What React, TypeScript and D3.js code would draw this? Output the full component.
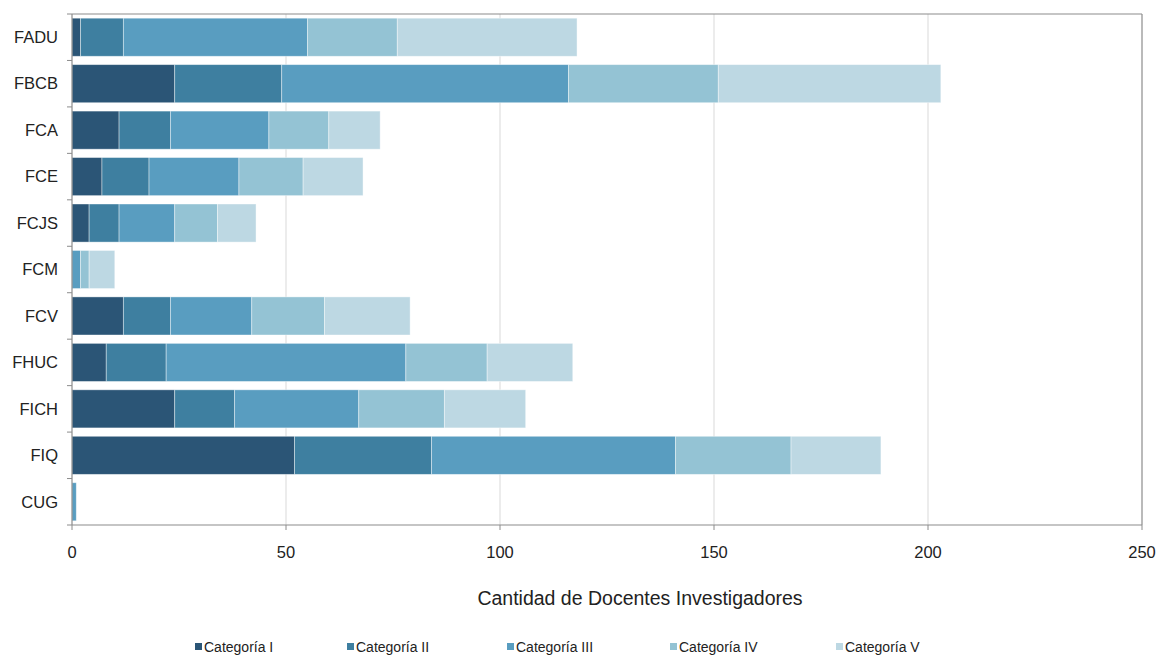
import React from 'react'
import * as d3 from "d3";

// faculties, top to bottom
const faculties = ["FADU", "FBCB", "FCA", "FCE", "FCJS", "FCM", "FCV", "FHUC", "FICH", "FIQ", "CUG"];
const categories = ["Categoría I", "Categoría II", "Categoría III", "Categoría IV", "Categoría V"];

// values per category, same order as faculties
const catI = [2, 24, 11, 7, 4, 0, 12, 8, 24, 52, 0];
const catII = [10, 25, 12, 11, 7, 0, 11, 14, 14, 32, 0];
const catIII = [43, 67, 23, 21, 13, 2, 19, 56, 29, 57, 1];
const catIV = [21, 35, 14, 15, 10, 2, 17, 19, 20, 27, 0];
const catV = [42, 52, 12, 14, 9, 6, 20, 20, 19, 21, 0];

const xTicks = [0, 50, 100, 150, 200, 250];
const colors = ["#2b5576", "#3e7fa0", "#599dc0", "#94c3d4", "#bdd8e3"];

const width = 1159;
const height = 655;
const margin = { top: 14, right: 17, bottom: 130, left: 72 };

function App() {
    const series = [catI, catII, catIII, catIV, catV];
    const rows = faculties.map((f, i) => {
        const row: any = { name: f };
        categories.forEach((c, k) => { row[c] = series[k][i]; });
        return row;
    });
    const stacked = d3.stack().keys(categories)(rows);

    const x = d3.scaleLinear().domain([0, 250]).range([margin.left, width - margin.right]);
    const y = d3.scaleBand().domain(faculties).range([margin.top, height - margin.bottom]).paddingInner(0.18).paddingOuter(0.09);
    const bandStep = (height - margin.bottom - margin.top) / faculties.length;
    const bottom = height - margin.bottom;

    const font = "'Liberation Sans', Arial, sans-serif";
    const legendX = [195, 347, 507, 670, 836];

    return (
        <svg width={width} height={height} style={{ position: "absolute", left: 0, top: 0, fontFamily: font }}>
            <rect x={0} y={0} width={width} height={height} fill="#fff" />
            {/* gridlines */}
            {xTicks.slice(1, -1).map(t => (
                <line key={t} x1={x(t)} x2={x(t)} y1={margin.top} y2={bottom} stroke="#d9d9d9" strokeWidth={1} />
            ))}
            {/* plot frame */}
            <line x1={margin.left} x2={width - margin.right} y1={margin.top} y2={margin.top} stroke="#8c8c8c" strokeWidth={1.2} />
            <line x1={width - margin.right} x2={width - margin.right} y1={margin.top} y2={bottom} stroke="#8c8c8c" strokeWidth={1.2} />

            {/* bars */}
            {stacked.map((s, k) => (
                <g key={s.key} fill={colors[k]}>
                    {s.map((d: any, i) => (
                        d[1] - d[0] > 0 ? (
                            <rect key={i}
                                x={x(d[0])}
                                y={y(faculties[i])}
                                width={x(d[1]) - x(d[0])}
                                height={y.bandwidth()}
                                stroke="#ffffff" strokeOpacity={0.5} strokeWidth={0.8} />
                        ) : null
                    ))}
                </g>
            ))}

            {/* y axis */}
            <line x1={margin.left} x2={margin.left} y1={margin.top} y2={bottom} stroke="#8c8c8c" strokeWidth={1.2} />
            {d3.range(faculties.length + 1).map(i => (
                <line key={i} x1={margin.left - 5} x2={margin.left} y1={margin.top + i * bandStep} y2={margin.top + i * bandStep} stroke="#8c8c8c" />
            ))}
            {faculties.map(f => (
                <text key={f} x={58} y={(y(f) ?? 0) + y.bandwidth() / 2} dy="0.35em" textAnchor="end" fontSize={16.5} fill="#222">{f}</text>
            ))}

            {/* x axis */}
            <line x1={margin.left} x2={width - margin.right} y1={bottom} y2={bottom} stroke="#8c8c8c" strokeWidth={1.2} />
            {xTicks.map(t => (
                <g key={t}>
                    <line x1={x(t)} x2={x(t)} y1={bottom} y2={bottom + 5} stroke="#8c8c8c" />
                    <text x={x(t)} y={552} dy="0.35em" textAnchor="middle" fontSize={16.5} fill="#222">{t}</text>
                </g>
            ))}
            <text x={640} y={598} dy="0.35em" textAnchor="middle" fontSize={19.5} fill="#222">Cantidad de Docentes Investigadores</text>

            {/* legend */}
            {categories.map((c, k) => (
                <g key={c} transform={`translate(${legendX[k]}, 647)`}>
                    <rect x={0} y={-4} width={7} height={7} fill={colors[k]} />
                    <text x={9} y={0} dy="0.35em" fontSize={14} fill="#222">{c}</text>
                </g>
            ))}
        </svg>
    );
}

export default App
